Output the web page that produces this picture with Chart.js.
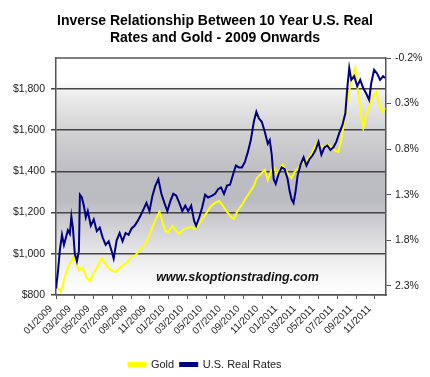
<!DOCTYPE html>
<html><head><meta charset="utf-8">
<script src="https://cdn.jsdelivr.net/npm/chart.js@4.4.1/dist/chart.umd.min.js"></script>
<style>html,body{margin:0;padding:0;background:#fff;}#wrap{width:430px;height:377px;}</style>
</head><body><div id="wrap"><canvas id="c" width="430" height="377"></canvas></div>
<script>
const titleLines = ['Inverse Relationship Between 10 Year U.S. Real', 'Rates and Gold - 2009 Onwards'];
const watermark = 'www.skoptionstrading.com';
const seriesNames = ['Gold', 'U.S. Real Rates'];
const xTickLabels = ['01/2009','03/2009','05/2009','07/2009','09/2009','11/2009','01/2010','03/2010','05/2010','07/2010','09/2010','11/2010','01/2011','03/2011','05/2011','07/2011','09/2011','11/2011'];
const xTickMonths = [0,2,4,6,8,10,12,14,16,18,20,22,24,26,28,30,32,34];
const priceTicks = [800,1000,1200,1400,1600,1800];
const rateTicks = [-0.2,0.3,0.8,1.3,1.8,2.3];
// months since 01/2009
const goldMonth = [0,0.53,0.85,1.17,1.59,1.91,2.12,2.44,2.86,3.29,3.61,4.03,4.45,4.88,5.30,5.62,6.04,6.36,6.79,7.21,7.64,8.06,8.48,8.91,9.33,9.76,10.18,10.6,11.03,11.35,11.67,11.98,12.41,12.73,13.15,13.57,14.0,14.42,14.85,15.27,15.69,16.12,16.54,16.97,17.39,17.82,18.24,18.66,18.98,19.41,19.83,20.25,20.68,21.10,21.42,21.85,22.27,22.59,22.91,23.22,23.54,23.86,24.18,24.50,24.81,25.13,25.45,25.87,26.30,26.72,27.15,27.57,27.89,28.21,28.63,29.06,29.48,29.80,30.12,30.43,30.75,31.07,31.39,31.71,31.92,32.13,32.34,32.56,32.77,32.98,33.19,33.51,33.83,34.15,34.46,34.78,35.10];
const goldPrice = [849,815,873,921,960,989,960,921,931,883,868,907,941,980,950,931,916,912,931,946,960,984,994,1014,1038,1067,1116,1164,1203,1154,1111,1106,1135,1116,1096,1116,1125,1130,1120,1145,1174,1203,1232,1247,1256,1232,1203,1179,1169,1213,1237,1271,1300,1329,1368,1387,1407,1358,1397,1421,1387,1407,1431,1407,1383,1368,1397,1416,1441,1455,1475,1514,1538,1523,1518,1528,1514,1499,1494,1552,1640,1727,1819,1868,1902,1815,1747,1659,1611,1659,1688,1727,1766,1785,1727,1688,1708];
const rateMonth = [0.00,0.21,0.42,0.64,0.85,1.06,1.27,1.48,1.64,1.80,2.01,2.23,2.44,2.55,2.76,2.97,3.18,3.39,3.71,4.03,4.35,4.67,4.98,5.30,5.62,5.94,6.15,6.47,6.79,7.10,7.42,7.74,8.06,8.38,8.70,9.01,9.33,9.65,9.97,10.29,10.60,10.92,11.24,11.56,11.88,12.20,12.51,12.83,13.15,13.47,13.79,14.10,14.42,14.74,14.95,15.27,15.59,15.91,16.22,16.65,16.97,17.29,17.60,17.92,18.24,18.56,18.88,19.19,19.51,19.83,20.15,20.47,20.78,21.10,21.37,21.63,21.95,22.27,22.59,22.80,23.01,23.22,23.44,23.75,24.07,24.39,24.71,24.92,25.13,25.34,25.56,25.77,26.09,26.41,26.72,27.04,27.36,27.68,28.00,28.31,28.63,28.95,29.27,29.59,29.90,30.22,30.54,30.86,31.07,31.28,31.50,31.81,32.13,32.45,32.77,33.09,33.40,33.62,33.93,34.25,34.57,34.89,35.10];
const rateValue = [2.33,2.14,1.90,1.74,1.85,1.77,1.69,1.73,1.54,1.66,1.95,2.03,1.92,1.30,1.33,1.42,1.55,1.48,1.64,1.57,1.70,1.66,1.77,1.85,1.81,1.92,2.00,1.80,1.72,1.81,1.72,1.74,1.67,1.64,1.59,1.53,1.46,1.39,1.48,1.31,1.20,1.13,1.29,1.39,1.48,1.37,1.29,1.31,1.39,1.48,1.42,1.48,1.42,1.59,1.64,1.55,1.44,1.30,1.33,1.31,1.29,1.24,1.22,1.29,1.20,1.19,1.08,0.98,1.00,1.00,0.94,0.83,0.70,0.50,0.39,0.46,0.50,0.61,0.74,0.70,0.86,1.13,1.18,1.07,1.00,1.02,1.13,1.26,1.35,1.39,1.26,1.09,0.97,0.89,0.98,0.91,0.87,0.81,0.72,0.86,0.78,0.76,0.81,0.78,0.72,0.62,0.54,0.41,0.13,-0.09,0.04,0.00,0.11,0.04,0.13,0.19,0.26,0.08,-0.07,-0.03,0.04,0.00,0.02];

const FONT = "'Liberation Sans', Arial, sans-serif";
const TXT = '#222';
const PLOT_BOTTOM = 295;

const bgPlugin = {
  id: 'bg',
  afterLayout(chart) {
    const lg = chart.legend;
    lg.left -= 10; lg.right -= 10;
    lg.top += 3; lg.bottom += 3;
  },
  beforeDraw(chart) {
    const a = chart.chartArea, ctx = chart.ctx;
    const g = ctx.createLinearGradient(0, a.top, 0, a.bottom);
    g.addColorStop(0, '#ffffff');
    g.addColorStop(0.09, '#ffffff');
    g.addColorStop(0.16, '#ececec');
    g.addColorStop(0.30, '#d3d3d5');
    g.addColorStop(0.49, '#bcbcc2');
    g.addColorStop(0.60, '#bbbbc2');
    g.addColorStop(0.73, '#d4d4d8');
    g.addColorStop(0.83, '#e9e9e9');
    g.addColorStop(0.93, '#f8f8f8');
    g.addColorStop(1, '#ffffff');
    ctx.save();
    ctx.fillStyle = g;
    ctx.fillRect(a.left, a.top, a.right - a.left, a.bottom - a.top);
    ctx.restore();
  },
  afterDatasetsDraw(chart) {
    const a = chart.chartArea, ctx = chart.ctx;
    ctx.save();
    ctx.strokeStyle = '#555';
    ctx.lineWidth = 1.5;
    ctx.beginPath();
    ctx.moveTo(a.left, a.top);
    ctx.lineTo(a.right, a.top);
    ctx.stroke();
    ctx.fillStyle = '#111';
    ctx.font = "italic bold 12.5px " + FONT;
    ctx.textAlign = 'center';
    ctx.textBaseline = 'middle';
    ctx.fillText(watermark, a.left + 0.55 * (a.right - a.left), a.bottom - 17);
    ctx.restore();
  }
};

new Chart(document.getElementById('c'), {
  type: 'line',
  data: {
    datasets: [
      { label: seriesNames[0], data: goldMonth.map((m, i) => ({x: m, y: goldPrice[i]})),
        yAxisID: 'yL', borderColor: '#ffff00', backgroundColor: '#ffff00', borderWidth: 2,
        pointRadius: 0, tension: 0, order: 1 },
      { label: seriesNames[1], data: rateMonth.map((m, i) => ({x: m, y: rateValue[i]})),
        yAxisID: 'yR', borderColor: '#000080', backgroundColor: '#000080', borderWidth: 2,
        pointRadius: 0, tension: 0, order: 0 }
    ]
  },
  options: {
    responsive: false,
    animation: false,
    devicePixelRatio: 1,
    layout: { padding: { left: 0, right: 0, top: 0, bottom: 0 } },
    plugins: {
      title: { display: true, text: titleLines, color: '#000',
        font: { family: FONT, size: 14, weight: 'bold', lineHeight: 1.25 },
        padding: { top: 12, bottom: 11 } },
      legend: { position: 'bottom',
        labels: { boxWidth: 17, boxHeight: 3, padding: 6, color: TXT,
          font: { family: FONT, size: 11 },
          sort: (a, b) => a.datasetIndex - b.datasetIndex } },
      tooltip: { enabled: false }
    },
    scales: {
      x: { type: 'linear', position: 'bottom', min: 0, max: 35.2,
        afterBuildTicks(s) { s.ticks = xTickMonths.map(v => ({value: v})); },
        afterFit(s) { s.height = 377 - s.chart.legend.height - PLOT_BOTTOM; },
        ticks: { autoSkip: false, minRotation: 45, maxRotation: 45, color: TXT, padding: 4,
          labelOffset: -5,
          font: { family: FONT, size: 10 },
          callback: (v, i) => xTickLabels[i] },
        grid: { drawOnChartArea: false, drawTicks: true, tickLength: 4, color: '#555', lineWidth: 1 },
        border: { color: '#555', width: 1.5 } },
      yL: { type: 'linear', position: 'left', min: 800, max: 1950,
        afterBuildTicks(s) { s.ticks = priceTicks.map(v => ({value: v})); },
        afterFit(s) { s.width = 56; },
        ticks: { color: TXT, padding: 6, font: { family: FONT, size: 10.5 },
          callback: v => '$' + Number(v).toLocaleString('en-US') },
        grid: { drawOnChartArea: true, tickLength: 5, color: '#444', lineWidth: 1.5 },
        border: { color: '#555', width: 1.5 } },
      yR: { type: 'linear', position: 'right', reverse: true, min: -0.2, max: 2.4,
        afterBuildTicks(s) { s.ticks = rateTicks.map(v => ({value: v})); },
        afterFit(s) { s.width = 44; },
        ticks: { color: TXT, padding: 4, font: { family: FONT, size: 10.5 },
          callback: v => Number(v).toFixed(1) + '%' },
        grid: { drawOnChartArea: false, tickLength: 5, color: '#555', lineWidth: 1 },
        border: { color: '#555', width: 1.5 } }
    }
  },
  plugins: [bgPlugin]
});
</script></body></html>
